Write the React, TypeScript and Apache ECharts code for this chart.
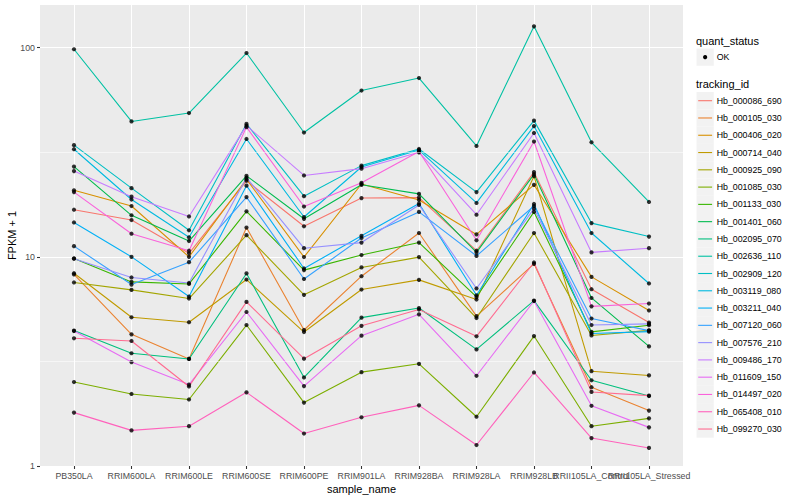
import React, { useEffect, useRef } from 'react';
import * as echarts from 'echarts';

const categories = [
  'PB350LA', 'RRIM600LA', 'RRIM600LE', 'RRIM600SE', 'RRIM600PE', 'RRIM901LA',
  'RRIM928BA', 'RRIM928LA', 'RRIM928LB', 'RRII105LA_Control', 'RRII105LA_Stressed',
];

const trackingIds = [
  'Hb_000086_690', 'Hb_000105_030', 'Hb_000406_020', 'Hb_000714_040', 'Hb_000925_090',
  'Hb_001085_030', 'Hb_001133_030', 'Hb_001401_060', 'Hb_002095_070', 'Hb_002636_110',
  'Hb_002909_120', 'Hb_003119_080', 'Hb_003211_040', 'Hb_007120_060', 'Hb_007576_210',
  'Hb_009486_170', 'Hb_011609_150', 'Hb_014497_020', 'Hb_065408_010', 'Hb_099270_030',
];

const colors = [
  '#F8766D', '#EA8331', '#D89000', '#C09B00', '#A3A500',
  '#7CAE00', '#39B600', '#00BB4E', '#00BF7D', '#00C1A3',
  '#00BFC4', '#00BAE0', '#00B0F6', '#35A2FF', '#9590FF',
  '#C77CFF', '#E76BF3', '#FA62DB', '#FF62BC', '#FF6C91',
];

// FPKM + 1 values, one per sample
const hb_000086_690 = [16.8, 15.0, 10.4, 23.1, 14.0, 19.1, 19.2, 10.7, 25.4, 7.0, 4.85];
const hb_000105_030 = [8.24, 4.26, 3.25, 13.8, 4.47, 8.08, 13.0, 5.21, 9.26, 2.38, 1.84];
const hb_000406_020 = [20.8, 17.5, 10.0, 23.5, 9.98, 22.3, 18.7, 12.8, 22.1, 8.02, 5.54];
const hb_000714_040 = [8.35, 5.14, 4.87, 7.79, 4.37, 6.98, 7.76, 6.25, 24.3, 2.84, 2.71];
const hb_000925_090 = [7.54, 6.95, 6.32, 12.7, 6.58, 8.9, 9.97, 5.1, 13.0, 4.21, 4.45];
const hb_001085_030 = [2.52, 2.21, 2.08, 4.72, 2.01, 2.81, 3.08, 1.72, 4.18, 1.55, 1.69];
const hb_001133_030 = [9.82, 7.59, 7.42, 16.5, 8.64, 10.2, 11.7, 6.43, 16.4, 4.38, 4.71];
const hb_001401_060 = [27.0, 15.8, 11.9, 24.4, 15.2, 22.1, 20.0, 10.5, 24.8, 6.36, 3.73];
const hb_002095_070 = [4.44, 3.46, 3.25, 8.33, 2.65, 5.12, 5.69, 3.61, 6.18, 2.57, 2.16];
const hb_002636_110 = [98.3, 44.4, 48.7, 94.3, 39.3, 62.4, 71.6, 33.9, 126.5, 35.3, 18.3];
const hb_002909_120 = [34.2, 21.3, 13.4, 43.2, 19.5, 27.3, 32.8, 20.4, 44.8, 14.5, 12.5];
const hb_003119_080 = [32.7, 18.8, 12.4, 36.6, 15.5, 26.9, 32.4, 18.1, 42.2, 13.0, 7.46];
const hb_003211_040 = [14.6, 10.0, 6.46, 21.9, 8.8, 12.6, 18.0, 6.55, 17.9, 4.3, 4.39];
const hb_007120_060 = [11.25, 7.37, 9.43, 19.3, 7.84, 12.3, 16.4, 10.1, 17.5, 5.07, 4.44];
const hb_007576_210 = [9.8, 7.97, 7.5, 23.9, 11.0, 11.7, 17.7, 7.06, 17.0, 4.72, 4.78];
const hb_009486_170 = [25.7, 19.4, 15.6, 42.4, 24.5, 26.4, 31.6, 15.9, 39.1, 10.5, 11.0];
const hb_011609_150 = [4.42, 3.14, 2.45, 5.45, 2.41, 4.2, 5.31, 2.7, 6.15, 1.94, 1.53];
const hb_014497_020 = [20.4, 12.9, 10.7, 41.7, 17.4, 22.6, 31.9, 12.0, 35.6, 5.8, 5.98];
const hb_065408_010 = [1.8, 1.48, 1.55, 2.25, 1.43, 1.71, 1.95, 1.26, 2.8, 1.36, 1.22];
const hb_099270_030 = [4.08, 3.96, 2.4, 6.09, 3.26, 4.68, 5.6, 4.17, 9.4, 2.26, 2.17];

const seriesValues = [
  hb_000086_690, hb_000105_030, hb_000406_020, hb_000714_040, hb_000925_090,
  hb_001085_030, hb_001133_030, hb_001401_060, hb_002095_070, hb_002636_110,
  hb_002909_120, hb_003119_080, hb_003211_040, hb_007120_060, hb_007576_210,
  hb_009486_170, hb_011609_150, hb_014497_020, hb_065408_010, hb_099270_030,
];

const yTicks = [1, 10, 100];
const yMinorTicks = [3.1623, 31.623];
const yMin = 1;
const yMax = 160;

export default function App() {
  const ref = useRef<HTMLDivElement>(null);

  useEffect(() => {
    document.body.style.margin = '0';
    const chart = echarts.init(ref.current as HTMLDivElement, null, { renderer: 'svg' });
    const font = '"Liberation Sans", Arial, Helvetica, sans-serif';

    const lineSeries = trackingIds.map((id, i) => ({
      name: id,
      type: 'line',
      xAxisIndex: 1,
      yAxisIndex: 1,
      data: seriesValues[i],
      showSymbol: false,
      symbol: 'none',
      silent: true,
      lineStyle: { color: colors[i], width: 1.1 },
      itemStyle: { color: colors[i] },
      z: 3,
    }));

    const pointSeries = trackingIds.map((id, i) => ({
      name: id + ' OK',
      type: 'scatter',
      xAxisIndex: 1,
      yAxisIndex: 1,
      data: seriesValues[i],
      symbol: 'circle',
      symbolSize: 4.2,
      silent: true,
      itemStyle: { color: '#000000' },
      z: 4,
    }));

    const minorSeries = {
      name: 'minor',
      type: 'line',
      xAxisIndex: 0,
      yAxisIndex: 0,
      data: [],
      silent: true,
      symbol: 'none',
      z: 1,
      markLine: {
        silent: true,
        symbol: ['none', 'none'],
        label: { show: false },
        lineStyle: { color: '#FFFFFF', width: 0.55, type: 'solid' },
        emphasis: { disabled: true },
        data: yMinorTicks.map((v) => ({ yAxis: v })),
      },
    };

    const graphics: any[] = [];
    // axis titles
    graphics.push({
      type: 'text', x: 361.5, y: 488.5,
      style: { text: 'sample_name', fontSize: 11, fontFamily: font, fill: '#000000', align: 'center', verticalAlign: 'middle' },
    });
    graphics.push({
      type: 'text', x: 11.7, y: 235.5, rotation: Math.PI / 2,
      style: { text: 'FPKM + 1', fontSize: 11, fontFamily: font, fill: '#000000', align: 'center', verticalAlign: 'middle' },
    });
    // legends
    const keyX = 696.5;
    const keySize = 17.28;
    graphics.push({
      type: 'text', x: 696, y: 40.7,
      style: { text: 'quant_status', fontSize: 11, fontFamily: font, fill: '#000000', align: 'left', verticalAlign: 'middle' },
    });
    graphics.push({ type: 'rect', shape: { x: keyX, y: 48.5, width: keySize, height: keySize }, style: { fill: '#F2F2F2' } });
    graphics.push({ type: 'circle', shape: { cx: keyX + keySize / 2, cy: 48.5 + keySize / 2, r: 2.1 }, style: { fill: '#000000' } });
    graphics.push({
      type: 'text', x: 716.7, y: 48.5 + keySize / 2,
      style: { text: 'OK', fontSize: 8.8, fontFamily: font, fill: '#000000', align: 'left', verticalAlign: 'middle' },
    });
    graphics.push({
      type: 'text', x: 696, y: 84,
      style: { text: 'tracking_id', fontSize: 11, fontFamily: font, fill: '#000000', align: 'left', verticalAlign: 'middle' },
    });
    trackingIds.forEach((id, i) => {
      const cy = 100.7 + i * keySize;
      graphics.push({ type: 'rect', shape: { x: keyX, y: cy - keySize / 2, width: keySize, height: keySize }, style: { fill: '#F2F2F2' } });
      graphics.push({ type: 'line', shape: { x1: keyX + 1.7, y1: cy, x2: keyX + keySize - 1.7, y2: cy }, style: { stroke: colors[i], lineWidth: 1.1 } });
      graphics.push({
        type: 'text', x: 716.7, y: cy,
        style: { text: id, fontSize: 8.8, fontFamily: font, fill: '#000000', align: 'left', verticalAlign: 'middle' },
      });
    });

    chart.setOption({
      animation: false,
      backgroundColor: '#FFFFFF',
      textStyle: { fontFamily: font },
      grid: [
        { left: 40, top: 5, width: 643, height: 461, show: true, backgroundColor: '#EBEBEB', borderWidth: 0, borderColor: 'transparent' },
        { left: 74, top: 5, width: 575, height: 461, show: false },
      ],
      xAxis: [
        { gridIndex: 0, type: 'value', min: 0, max: 1, show: false },
        {
          gridIndex: 1,
          type: 'category',
          data: categories,
          boundaryGap: false,
          axisLine: { show: false },
          axisTick: { show: true, length: 3, interval: 0, lineStyle: { color: '#333333', width: 1.07 } },
          axisLabel: { interval: 0, margin: 5, color: '#4D4D4D', fontSize: 8.8, fontFamily: font },
          splitLine: { show: true, interval: 0, lineStyle: { color: '#FFFFFF', width: 1.07 } },
        },
      ],
      yAxis: [
        {
          gridIndex: 0,
          type: 'log',
          logBase: 10,
          min: yMin,
          max: yMax,
          axisLine: { show: false },
          axisTick: { show: true, length: 3, customValues: yTicks, lineStyle: { color: '#333333', width: 1.07 } },
          axisLabel: {
            customValues: yTicks,
            margin: 5,
            color: '#4D4D4D',
            fontSize: 8.8,
            fontFamily: font,
            formatter: (v: number) => (yTicks.some((t) => Math.abs(t - v) < 1e-6 * t) ? String(Math.round(v)) : ''),
          },
          splitLine: { show: true, lineStyle: { color: '#FFFFFF', width: 1.07 } },
        },
        { gridIndex: 1, type: 'log', logBase: 10, min: yMin, max: yMax, show: false },
      ],
      series: [minorSeries, ...lineSeries, ...pointSeries],
      graphic: { elements: graphics },
    });

    return () => {
      chart.dispose();
    };
  }, []);

  return <div ref={ref} style={{ position: 'absolute', left: 0, top: 0, width: 800, height: 500 }} />;
}
